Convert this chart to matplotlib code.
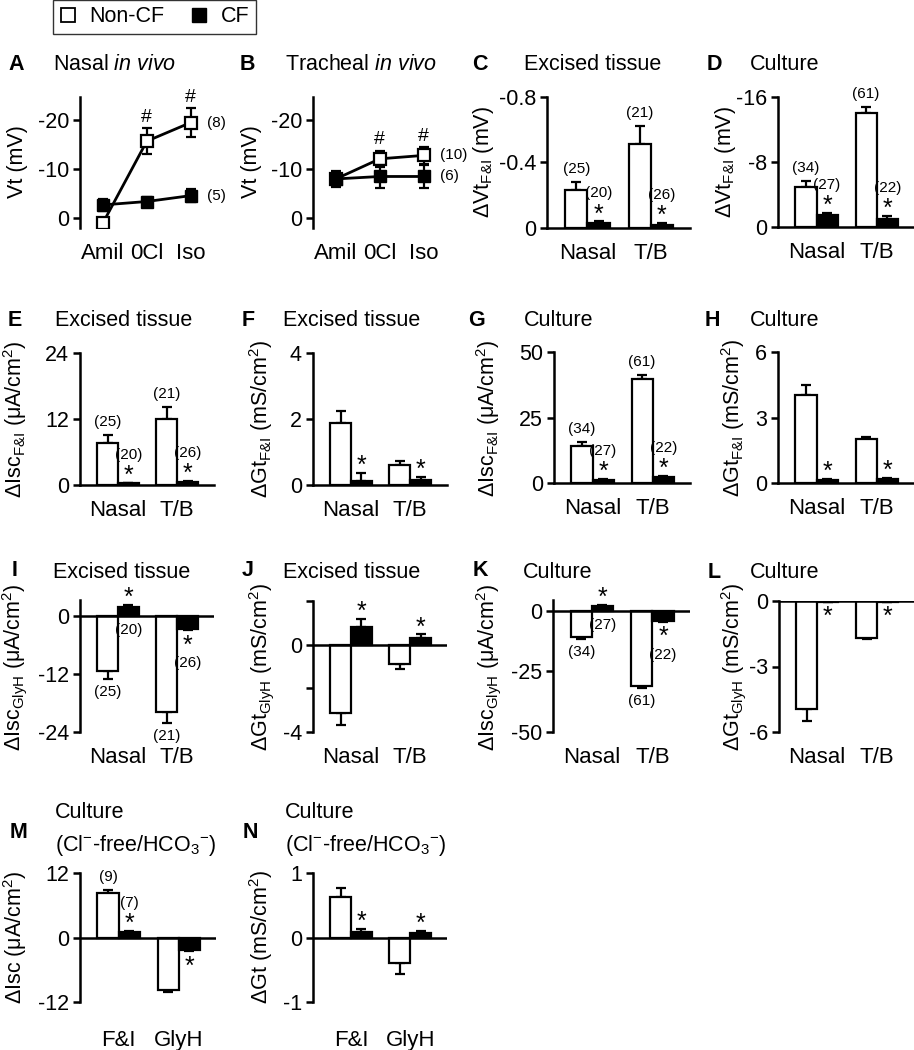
import numpy as np
import matplotlib
matplotlib.use('Agg')
import matplotlib.pyplot as plt
from matplotlib.lines import Line2D
from matplotlib.mathtext import MathTextParser

plt.rcParams['font.family'] = ['Liberation Sans', 'DejaVu Sans']
plt.rcParams['mathtext.fontset'] = 'custom'
plt.rcParams['mathtext.rm'] = 'Liberation Sans'
plt.rcParams['mathtext.it'] = 'Liberation Sans:italic'
plt.rcParams['mathtext.bf'] = 'Liberation Sans:bold'
plt.rcParams['mathtext.default'] = 'regular'

# ---- data ----
steps = ['Amil', '0Cl', 'Iso']
nasal_vivo_noncf = [1.0, -15.7, -19.5]
nasal_vivo_noncf_err = [0.8, 2.6, 2.9]
nasal_vivo_cf = [-2.7, -3.4, -4.6]
nasal_vivo_cf_err = [1.2, 1.0, 1.4]
trach_vivo_noncf = [-8.0, -12.1, -12.8]
trach_vivo_noncf_err = [1.5, 1.6, 1.7]
trach_vivo_cf = [-8.0, -8.5, -8.5]
trach_vivo_cf_err = [1.7, 2.3, 2.3]

tissues = ['Nasal', 'T/B']
drugs = ['F&I', 'GlyH']

vt_exc_noncf, vt_exc_noncf_err = [-0.23, -0.51], [0.05, 0.11]
vt_exc_cf, vt_exc_cf_err = [-0.03, -0.02], [0.01, 0.01]
vt_cul_noncf, vt_cul_noncf_err = [-4.9, -14.0], [0.8, 0.8]
vt_cul_cf, vt_cul_cf_err = [-1.5, -1.0], [0.2, 0.4]

isc_exc_noncf, isc_exc_noncf_err = [7.6, 12.0], [1.5, 2.2]
isc_exc_cf, isc_exc_cf_err = [0.3, 0.5], [0.1, 0.3]
gt_exc_noncf, gt_exc_noncf_err = [1.88, 0.62], [0.36, 0.12]
gt_exc_cf, gt_exc_cf_err = [0.12, 0.15], [0.24, 0.1]
isc_cul_noncf, isc_cul_noncf_err = [14.1, 39.7], [1.5, 1.5]
isc_cul_cf, isc_cul_cf_err = [1.3, 2.3], [0.2, 0.3]
gt_cul_noncf, gt_cul_noncf_err = [4.05, 2.0], [0.45, 0.1]
gt_cul_cf, gt_cul_cf_err = [0.15, 0.2], [0.03, 0.03]

iscg_exc_noncf, iscg_exc_noncf_err = [-11.4, -19.9], [1.6, 2.2]
iscg_exc_cf, iscg_exc_cf_err = [1.8, -2.6], [0.4, 0.4]
gtg_exc_noncf, gtg_exc_noncf_err = [-3.14, -0.9], [0.55, 0.2]
gtg_exc_cf, gtg_exc_cf_err = [0.8, 0.32], [0.36, 0.15]
iscg_cul_noncf, iscg_cul_noncf_err = [-10.6, -31.0], [1.0, 0.8]
iscg_cul_cf, iscg_cul_cf_err = [2.0, -4.0], [0.4, 0.4]
gtg_cul_noncf, gtg_cul_noncf_err = [-4.95, -1.7], [0.55, 0.06]
gtg_cul_cf, gtg_cul_cf_err = [-0.05, -0.04], [0.01, 0.01]

isc_clfree_noncf, isc_clfree_noncf_err = [8.2, -9.7], [0.7, 0.5]
isc_clfree_cf, isc_clfree_cf_err = [1.1, -2.3], [0.2, 0.3]
gt_clfree_noncf, gt_clfree_noncf_err = [0.63, -0.39], [0.13, 0.17]
gt_clfree_cf, gt_clfree_cf_err = [0.08, 0.07], [0.05, 0.03]

n_exc_noncf, n_exc_cf = ['(25)', '(21)'], ['(20)', '(26)']
n_cul_noncf, n_cul_cf = ['(34)', '(61)'], ['(27)', '(22)']
n_clfree_noncf, n_clfree_cf = ['(9)', ''], ['(7)', '']

# subscript "F&I" in mathtext
FI = None
for cand in ['$_{F&I}$', '$_{F\\text{&}I}$', '$_{F}$&$_{I}$']:
    try:
        MathTextParser('agg').parse(cand, 100)
        FI = cand
        break
    except Exception:
        continue
if FI is None:
    FI = '$_{FI}$'

W, H = 914, 1050
fig = plt.figure(figsize=(W / 100, H / 100), dpi=100)
LW = 1.8
TICK_FS = 15.5
XLAB_FS = 16
N_FS = 11
STAR_FS = 18


def px_axes(l, t, r, b):
    return fig.add_axes([l / W, 1 - b / H, (r - l) / W, (b - t) / H])


def ftext(x, y, s, **kw):
    fig.text(x / W, 1 - y / H, s, **kw)


def style(ax, ylim, yticks, yticklabels, xpad):
    ax.set_ylim(*ylim)
    ax.set_yticks(yticks)
    ax.set_yticklabels(yticklabels)
    for s in ['top', 'right']:
        ax.spines[s].set_visible(False)
    ax.spines['left'].set_linewidth(LW)
    ax.spines['bottom'].set_linewidth(LW)
    ax.tick_params(axis='y', direction='out', length=5, width=LW, labelsize=TICK_FS, pad=3)
    ax.tick_params(axis='x', length=0, labelsize=XLAB_FS, pad=xpad)
    ax.patch.set_visible(False)


def note(ax, x, y, txt, dy, size, star=False):
    if star:
        dy = dy - 4
    ax.annotate(txt, (x, y), xytext=(0, dy * 0.72), textcoords='offset points',
                ha='center', va='center', fontsize=size, annotation_clip=False)


def line_panel(box, noncf, noncf_err, cf, cf_err, hash_idx, n_noncf, n_cf):
    ax = px_axes(*box)
    x = np.arange(len(steps))
    ax.errorbar(x, noncf, yerr=noncf_err, color='black', lw=2, elinewidth=1.6,
                capsize=3.5, capthick=1.6, marker='s', ms=8, mfc='white',
                mec='black', mew=1.6, zorder=3)
    ax.errorbar(x, cf, yerr=cf_err, color='black', lw=2, elinewidth=1.6,
                capsize=3.5, capthick=1.6, marker='s', ms=8, mfc='black',
                mec='black', zorder=4)
    style(ax, (2.0, -24.7), [0, -10, -20], ['0', '-10', '-20'], 11)
    ax.spines['bottom'].set_visible(False)
    ax.set_xlim(-0.52, 2.55)
    ax.set_xticks(x)
    ax.set_xticklabels(steps)
    for i in hash_idx:
        note(ax, x[i], noncf[i] - noncf_err[i], '#', 11, 14)
    ax.annotate(n_noncf, (x[-1], noncf[-1]), xytext=(12, 0), textcoords='offset points',
                ha='left', va='center', fontsize=N_FS)
    ax.annotate(n_cf, (x[-1], cf[-1]), xytext=(12, 0), textcoords='offset points',
                ha='left', va='center', fontsize=N_FS)
    return ax


def bar_panel(box, ylim, yticks, yticklabels, groups, noncf, noncf_err, cf, cf_err,
              n_noncf=None, n_cf=None, zero_line=False, xpad=11):
    ax = px_axes(*box)
    x = np.arange(len(groups))
    w = 0.35
    ax.bar(x - w / 2, noncf, w, color='white', edgecolor='black', lw=1.6, zorder=3)
    ax.bar(x + w / 2, cf, w, color='black', edgecolor='black', lw=1.6, zorder=3)
    for xs, vals, errs in [(x - w / 2, noncf, noncf_err), (x + w / 2, cf, cf_err)]:
        lo = [e if v < 0 else 0 for v, e in zip(vals, errs)]
        hi = [e if v >= 0 else 0 for v, e in zip(vals, errs)]
        ax.errorbar(xs, vals, yerr=[lo, hi], fmt='none', ecolor='black',
                    elinewidth=1.6, capsize=3.5, capthick=1.6, zorder=2)
    style(ax, ylim, yticks, yticklabels, xpad)
    ax.set_xlim(-0.64, 1.62)
    ax.set_xticks(x)
    ax.set_xticklabels(groups)
    if zero_line:
        ax.spines['bottom'].set_visible(False)
        ax.axhline(0, color='black', lw=LW, zorder=4)
    inv = ax.yaxis_inverted()

    def updir(v):
        s = 1 if v >= 0 else -1
        return -s if inv else s

    for i in range(len(groups)):
        v, e = noncf[i], noncf_err[i]
        end = v + (e if v >= 0 else -e)
        if n_noncf and n_noncf[i]:
            note(ax, x[i] - w / 2, end, n_noncf[i], updir(v) * 13, N_FS)
        v, e = cf[i], cf_err[i]
        end = v + (e if v >= 0 else -e)
        d = updir(v)
        note(ax, x[i] + w / 2, end, '*', d * 11, STAR_FS, star=True)
        if n_cf and n_cf[i]:
            if np.sign(v) != np.sign(noncf[i]):
                note(ax, x[i] + w / 2, 0, n_cf[i], -d * 14, N_FS)
            else:
                note(ax, x[i] + w / 2, end, n_cf[i], d * (28 if d > 0 else 33), N_FS)
    return ax


# ---- row 1 ----
line_panel((80, 97, 215, 228), nasal_vivo_noncf, nasal_vivo_noncf_err,
           nasal_vivo_cf, nasal_vivo_cf_err, [1, 2], '(8)', '(5)')
line_panel((313, 97, 448, 228), trach_vivo_noncf, trach_vivo_noncf_err,
           trach_vivo_cf, trach_vivo_cf_err, [1, 2], '(10)', '(6)')
bar_panel((547, 97, 690, 228), (0, -0.8), [0, -0.4, -0.8], ['0', '-0.4', '-0.8'], tissues,
          vt_exc_noncf, vt_exc_noncf_err, vt_exc_cf, vt_exc_cf_err, n_exc_noncf, n_exc_cf)
bar_panel((778, 97, 914, 227), (0, -16), [0, -8, -16], ['0', '-8', '-16'], tissues,
          vt_cul_noncf, vt_cul_noncf_err, vt_cul_cf, vt_cul_cf_err, n_cul_noncf, n_cul_cf)

# ---- row 2 ----
bar_panel((80, 353, 214, 485), (0, 24), [0, 12, 24], ['0', '12', '24'], tissues,
          isc_exc_noncf, isc_exc_noncf_err, isc_exc_cf, isc_exc_cf_err, n_exc_noncf, n_exc_cf)
bar_panel((313, 353, 447, 485), (0, 4), [0, 2, 4], ['0', '2', '4'], tissues,
          gt_exc_noncf, gt_exc_noncf_err, gt_exc_cf, gt_exc_cf_err)
bar_panel((554, 352, 690, 483), (0, 50), [0, 25, 50], ['0', '25', '50'], tissues,
          isc_cul_noncf, isc_cul_noncf_err, isc_cul_cf, isc_cul_cf_err, n_cul_noncf, n_cul_cf)
bar_panel((778, 352, 914, 483), (0, 6), [0, 3, 6], ['0', '3', '6'], tissues,
          gt_cul_noncf, gt_cul_noncf_err, gt_cul_cf, gt_cul_cf_err)

# ---- row 3 ----
bar_panel((80, 600, 214, 732), (-24, 3.3), [0, -12, -24], ['0', '-12', '-24'], tissues,
          iscg_exc_noncf, iscg_exc_noncf_err, iscg_exc_cf, iscg_exc_cf_err,
          n_exc_noncf, n_exc_cf, zero_line=True)
bar_panel((313, 601, 447, 732), (-4, 2), [2, 0, -2, -4], ['', '0', '', '-4'], tissues,
          gtg_exc_noncf, gtg_exc_noncf_err, gtg_exc_cf, gtg_exc_cf_err, zero_line=True)
bar_panel((553, 600, 690, 732), (-50, 4.5), [0, -25, -50], ['0', '-25', '-50'], tissues,
          iscg_cul_noncf, iscg_cul_noncf_err, iscg_cul_cf, iscg_cul_cf_err,
          n_cul_noncf, n_cul_cf, zero_line=True)
bar_panel((779, 601, 914, 732), (-6, 0), [0, -3, -6], ['0', '-3', '-6'], tissues,
          gtg_cul_noncf, gtg_cul_noncf_err, gtg_cul_cf, gtg_cul_cf_err, zero_line=True)

# ---- row 4 ----
bar_panel((80, 873, 216, 1002), (-12, 12), [12, 0, -12], ['12', '0', '-12'], drugs,
          isc_clfree_noncf, isc_clfree_noncf_err, isc_clfree_cf, isc_clfree_cf_err,
          n_clfree_noncf, n_clfree_cf, zero_line=True, xpad=20)
bar_panel((313, 873, 447, 1002), (-1, 1), [1, 0, -1], ['1', '0', '-1'], drugs,
          gt_clfree_noncf, gt_clfree_noncf_err, gt_clfree_cf, gt_clfree_cf_err,
          zero_line=True, xpad=20)

# ---- panel letters and titles ----
letters = [('A', 8, 65), ('B', 240, 65), ('C', 472, 65), ('D', 707, 65),
           ('E', 8, 321), ('F', 242, 321), ('G', 468, 321), ('H', 705, 321),
           ('I', 12, 571), ('J', 242, 571), ('K', 473, 571), ('L', 708, 573),
           ('M', 10, 833), ('N', 243, 833)]
for s, x, y in letters:
    ftext(x, y, s, fontsize=15.5, fontweight='bold', ha='left', va='center')

titles = [('Nasal $\\mathit{in}$ $\\mathit{vivo}$', 53, 65),
          ('Tracheal $\\mathit{in}$ $\\mathit{vivo}$', 285, 65),
          ('Excised tissue', 524, 65), ('Culture', 750, 65),
          ('Excised tissue', 55, 321), ('Excised tissue', 283, 321),
          ('Culture', 524, 321), ('Culture', 750, 321),
          ('Excised tissue', 53, 573), ('Excised tissue', 283, 573),
          ('Culture', 523, 573), ('Culture', 750, 573),
          ('Culture', 55, 813), ('(Cl$^{-}$-free/HCO$_3$$^{-}$)', 55, 845),
          ('Culture', 285, 813), ('(Cl$^{-}$-free/HCO$_3$$^{-}$)', 285, 845)]
for s, x, y in titles:
    ftext(x, y, s, fontsize=15.5, ha='left', va='center')

ylabels = [('Vt (mV)', 17, 162), ('Vt (mV)', 252, 162),
           ('ΔVt' + FI + ' (mV)', 484, 162), ('ΔVt' + FI + ' (mV)', 725, 162),
           ('ΔIsc' + FI + ' (μA/cm$^2$)', 15, 419),
           ('ΔGt' + FI + ' (mS/cm$^2$)', 261, 419),
           ('ΔIsc' + FI + ' (μA/cm$^2$)', 488, 418),
           ('ΔGt' + FI + ' (mS/cm$^2$)', 733, 418),
           ('ΔIsc$_{GlyH}$ (μA/cm$^2$)', 15, 667),
           ('ΔGt$_{GlyH}$ (mS/cm$^2$)', 261, 667),
           ('ΔIsc$_{GlyH}$ (μA/cm$^2$)', 488, 667),
           ('ΔGt$_{GlyH}$ (mS/cm$^2$)', 733, 667),
           ('ΔIsc (μA/cm$^2$)', 15, 937), ('ΔGt (mS/cm$^2$)', 261, 937)]
for s, x, y in ylabels:
    ftext(x, y, s, fontsize=15.5, rotation=90, ha='center', va='center')

# ---- legend ----
handles = [Line2D([], [], ls='none', marker='s', ms=10, mfc='white', mec='black', mew=1.3),
           Line2D([], [], ls='none', marker='s', ms=10, mfc='black', mec='black')]
leg = fig.legend(handles, ['Non-CF', 'CF'], loc='upper left', bbox_to_anchor=(53 / W, 1.0),
                 ncol=2, fontsize=15.5, frameon=True, fancybox=False, edgecolor='black',
                 handlelength=0.8, handletextpad=0.6, columnspacing=1.2, borderpad=0.3,
                 borderaxespad=0)
leg.get_frame().set_linewidth(1.0)

fig.savefig('out.png', dpi=100)
